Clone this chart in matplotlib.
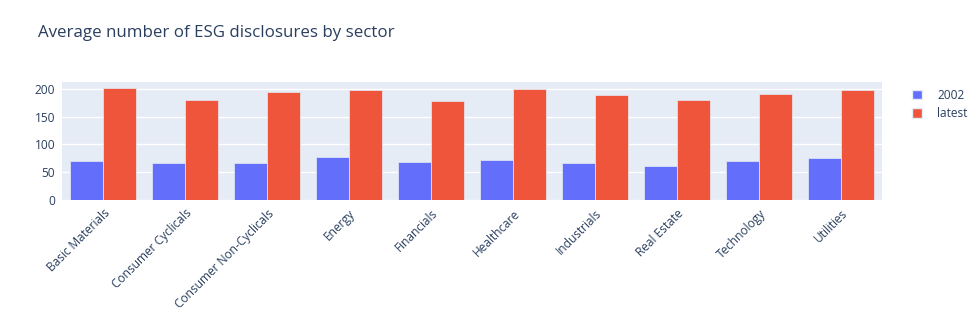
import matplotlib.pyplot as plt
import numpy as np
from matplotlib.patches import Patch

# Données
sectors = ["Basic Materials", "Consumer Cyclicals", "Consumer Non-Cyclicals", "Energy",
           "Financials", "Healthcare", "Industrials", "Real Estate", "Technology", "Utilities"]
vals_2002 = [71, 66, 67, 77, 68, 72.5, 66, 61.5, 69.5, 75]
vals_latest = [201.5, 180.5, 195, 197.5, 179, 199.5, 188.5, 179.5, 191.5, 197.5]

c_2002 = '#636EFA'
c_latest = '#EF553B'
txt = '#2a3f5f'

plt.rcParams['font.family'] = ['Open Sans', 'DejaVu Sans']

fig = plt.figure(figsize=(9.78, 3.25), dpi=100)
ax = fig.add_axes([62/978, 1-200/325, 820/978, 118/325])
ax.set_facecolor('#E5ECF6')

x = np.arange(len(sectors))
w = 0.4
ax.bar(x - w/2, vals_2002, w, color=c_2002, edgecolor='#E5ECF6', linewidth=0.5, zorder=3)
ax.bar(x + w/2, vals_latest, w, color=c_latest, edgecolor='#E5ECF6', linewidth=0.5, zorder=3)

ax.set_xlim(-0.5, len(sectors) - 0.5)
ax.set_ylim(0, 212.5)
ax.set_yticks([0, 50, 100, 150, 200])
ax.grid(axis='y', color='white', linewidth=1, zorder=0)
ax.set_xticks(x)
ax.set_xticklabels(sectors, rotation=45, ha='right', rotation_mode='anchor')
ax.tick_params(axis='both', length=0, labelsize=8.6, colors=txt, pad=5)
for s in ax.spines.values():
    s.set_visible(False)

fig.text(38/978, 1-33/325, "Average number of ESG disclosures by sector",
         fontsize=12.2, color=txt, va='center', ha='left')

handles = [Patch(facecolor=c_2002, edgecolor='#E5ECF6'), Patch(facecolor=c_latest, edgecolor='#E5ECF6')]
fig.legend(handles, ['2002', 'latest'], loc='upper left', bbox_to_anchor=(907/978, 1-84/325),
           frameon=False, fontsize=8.6, labelcolor=txt, handlelength=0.85, handleheight=0.85,
           handletextpad=1.3, labelspacing=0.45, borderaxespad=0)

fig.savefig('out.png', dpi=100)
